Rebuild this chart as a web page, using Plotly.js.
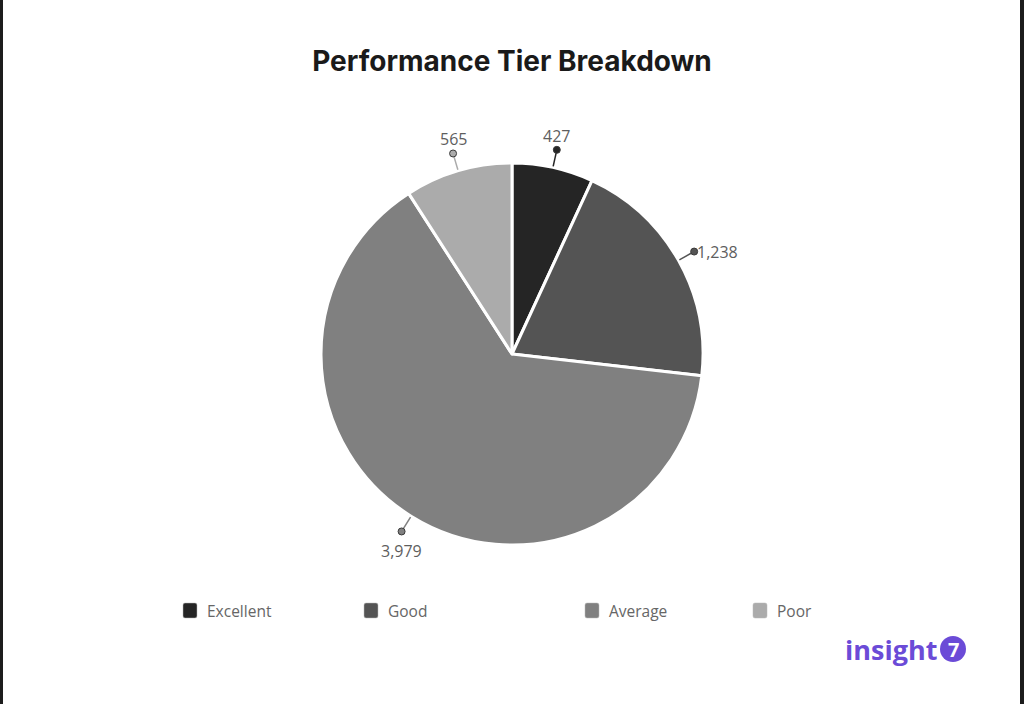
<!DOCTYPE html>
<html>
<head>
<meta charset="utf-8">
<script src="https://cdn.plot.ly/plotly-3.0.1.min.js"></script>
<style>
  html, body { margin: 0; padding: 0; background: #ffffff; }
  #chart { width: 1024px; height: 704px; }
</style>
</head>
<body>
<div id="chart"></div>
<script>
// ---- Data ----
const categories = ["Excellent", "Good", "Average", "Poor"];
const values = [427, 1238, 3979, 565];
const valueLabels = ["427", "1,238", "3,979", "565"];
const sliceColors = ["#252525", "#545454", "#808080", "#ababab"];

// ---- Geometry (pixels) ----
const W = 1024, H = 704;
const CX = 512, CY = 354, R = 191;
const px = x => x / W;
const py = y => 1 - y / H;

const shapes = [];
const annotations = [];

// Leader lines, dots and value labels computed from the data
const total = values.reduce((a, b) => a + b, 0);
let acc = 0;
values.forEach((v, i) => {
  const mid = (acc + v / 2) / total * 2 * Math.PI;
  acc += v;
  const dx = Math.sin(mid), dy = -Math.cos(mid);
  const x1 = CX + dx * (R + 1), y1 = CY + dy * (R + 1);
  const x2 = CX + dx * 206, y2 = CY + dy * 206;
  const xd = CX + dx * 209, yd = CY + dy * 209;
  shapes.push({type: "line", xref: "paper", yref: "paper",
    x0: px(x1), y0: py(y1), x1: px(x2), y1: py(y2),
    line: {color: sliceColors[i], width: 1.5}});
  const dr = 3.5;
  shapes.push({type: "circle", xref: "paper", yref: "paper",
    x0: px(xd - dr), x1: px(xd + dr), y0: py(yd + dr), y1: py(yd - dr),
    fillcolor: sliceColors[i], line: {color: "#3a3a3a", width: 1}});
  const ann = {xref: "paper", yref: "paper", x: px(xd), y: py(yd),
    text: valueLabels[i], showarrow: false,
    font: {family: "Open Sans, sans-serif", size: 16, color: "#5e5e5e"}};
  if (Math.abs(dy) >= Math.abs(dx)) {
    ann.xanchor = "center";
    if (dy < 0) { ann.yanchor = "bottom"; ann.yshift = 1; }
    else { ann.yanchor = "top"; ann.yshift = -7; }
  } else {
    ann.yanchor = "middle";
    if (dx > 0) { ann.xanchor = "left"; ann.xshift = 1; }
    else { ann.xanchor = "right"; ann.xshift = -1; }
  }
  annotations.push(ann);
});

// Legend (manual, to match spacing)
const legendX = [183, 364, 585, 753];
const LY = 603, LS = 15;
categories.forEach((c, i) => {
  const x0 = legendX[i], x1 = x0 + 14, y0 = LY, y1 = LY + LS, r = 2;
  const path = `M ${px(x0 + r)} ${py(y0)} L ${px(x1 - r)} ${py(y0)} Q ${px(x1)} ${py(y0)} ${px(x1)} ${py(y0 + r)} ` +
    `L ${px(x1)} ${py(y1 - r)} Q ${px(x1)} ${py(y1)} ${px(x1 - r)} ${py(y1)} L ${px(x0 + r)} ${py(y1)} ` +
    `Q ${px(x0)} ${py(y1)} ${px(x0)} ${py(y1 - r)} L ${px(x0)} ${py(y0 + r)} Q ${px(x0)} ${py(y0)} ${px(x0 + r)} ${py(y0)} Z`;
  shapes.push({type: "path", xref: "paper", yref: "paper", path: path,
    fillcolor: sliceColors[i], line: {color: "#bbbbbb", width: 0.5}});
  annotations.push({xref: "paper", yref: "paper", x: px(x0 + 22), y: py(LY + LS / 2),
    xanchor: "left", yanchor: "middle", showarrow: false, text: c,
    font: {family: "Open Sans, sans-serif", size: 15.5, color: "#666666"}});
});

// Logo
annotations.push({xref: "paper", yref: "paper", x: px(843), y: py(649),
  xanchor: "left", yanchor: "middle", showarrow: false, text: "<b>insight</b>",
  font: {family: "Open Sans, sans-serif", size: 27, color: "#6b4bd7"}});
shapes.push({type: "circle", xref: "paper", yref: "paper",
  x0: px(940), x1: px(966), y0: py(662), y1: py(636),
  fillcolor: "#6b4bd7", line: {width: 0}});
annotations.push({xref: "paper", yref: "paper", x: px(953), y: py(649),
  xanchor: "center", yanchor: "middle", showarrow: false, text: "<b>7</b>",
  font: {family: "Open Sans, sans-serif", size: 20, color: "#ffffff"}});

// Frame strips
shapes.push({type: "rect", xref: "paper", yref: "paper", x0: 0, x1: px(3), y0: 0, y1: 1,
  fillcolor: "#1c1c1c", line: {width: 0}});
shapes.push({type: "rect", xref: "paper", yref: "paper", x0: px(1020), x1: 1, y0: 0, y1: 1,
  fillcolor: "#1c1c1c", line: {width: 0}});

const trace = {
  type: "pie",
  labels: categories,
  values: values,
  sort: false,
  direction: "clockwise",
  rotation: 0,
  textinfo: "none",
  hoverinfo: "label+value",
  marker: {colors: sliceColors, line: {color: "#ffffff", width: 3}},
  domain: {x: [px(CX - R), px(CX + R)], y: [py(CY + R), py(CY - R)]},
  showlegend: false
};

const layout = {
  width: W, height: H,
  margin: {l: 0, r: 0, t: 0, b: 0},
  paper_bgcolor: "#ffffff",
  title: {
    text: "<b>Performance Tier Breakdown</b>",
    x: 0.5, xanchor: "center", y: py(61), yanchor: "middle",
    font: {family: "Inter, sans-serif", size: 28, color: "#1a1a1a"}
  },
  showlegend: false,
  shapes: shapes,
  annotations: annotations
};

Plotly.newPlot("chart", [trace], layout, {displayModeBar: false, staticPlot: true});
</script>
</body>
</html>
